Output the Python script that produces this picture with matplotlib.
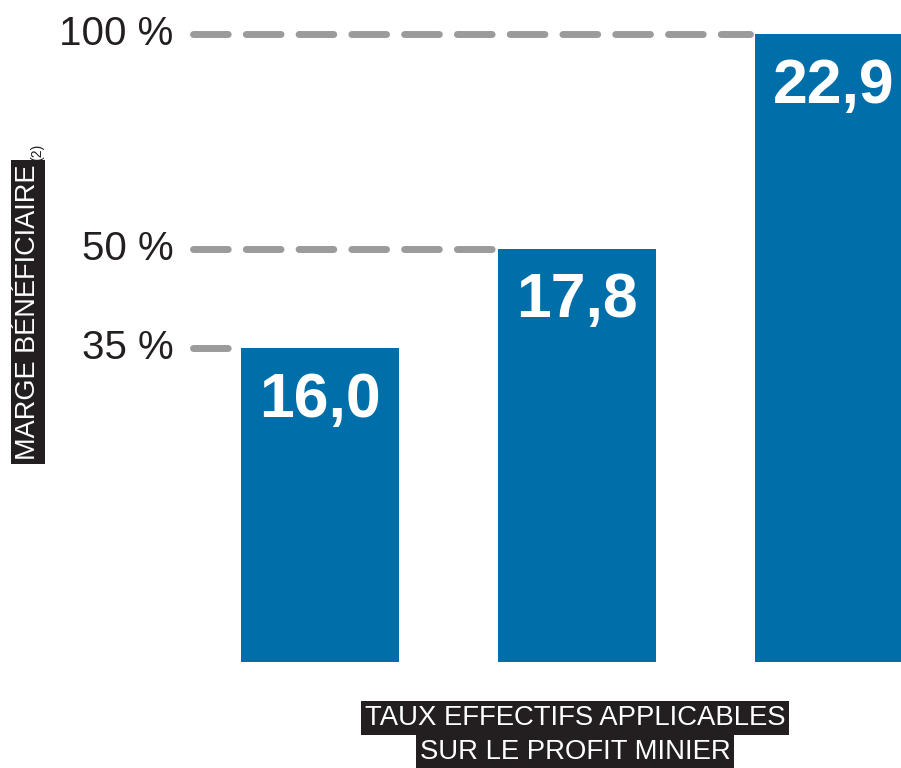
import matplotlib
matplotlib.use("Agg")
import matplotlib.pyplot as plt

# Data
categories = ["Marge 35 %", "Marge 50 %", "Marge 100 %"]
bar_heights = [50.0, 65.8, 100.0]        # relative bar heights
margin_labels = ["35 %", "50 %", "100 %"]
rate_values = [16.0, 17.8, 22.9]
rate_labels = ["16,0", "17,8", "22,9"]

plt.rcParams['font.family'] = ['Liberation Sans', 'DejaVu Sans']

W, H = 901, 768
fig = plt.figure(figsize=(W / 100, H / 100), dpi=100)
ax_l, ax_r, ax_b, ax_t = 190, 901, 662, 34
ax = fig.add_axes([ax_l / W, 1 - ax_b / H, (ax_r - ax_l) / W, (ax_b - ax_t) / H])

blue = "#006ea8"
x = list(range(len(categories)))
width = 158 / 257
ax.bar(x, bar_heights, width=width, color=blue, zorder=2)
ax.set_xlim(-(320 - 190) / 257, (901 - 320) / 257)
ax.set_ylim(0, 100)

for xi, h, lab, ml in zip(x, bar_heights, rate_labels, margin_labels):
    ax.plot([ax.get_xlim()[0] + 0.01, xi - width / 2 - 0.02], [h, h], color="#9b9b9b",
            lw=5, ls=(0, (5, 2.6)), dash_capstyle="round", solid_capstyle="round",
            clip_on=False, zorder=1)
    ax.text(xi, h - 3.6, lab, ha="center", va="top", color="white",
            fontsize=45, fontweight="bold", zorder=3)
    ax.text(ax.get_xlim()[0] - 0.065, h, ml, ha="right", va="center",
            fontsize=29, color="#231f20", clip_on=False)

for s in ax.spines.values():
    s.set_visible(False)
ax.set_xticks([])
ax.set_yticks([])

# Y label
fig.text(28 / W, 1 - 312 / H, "MARGE BÉNÉFICIAIRE", rotation=90, ha="center", va="center",
         color="white", fontsize=19.5,
         bbox=dict(facecolor="#231f20", edgecolor="none", pad=3))
fig.text(37 / W, 1 - 152 / H, "(2)", rotation=90, ha="center", va="center",
         color="#231f20", fontsize=10)

# X label
fig.text(575 / W, 1 - 718 / H, "TAUX EFFECTIFS APPLICABLES", ha="center", va="center",
         color="white", fontsize=19.8,
         bbox=dict(facecolor="#231f20", edgecolor="none", pad=2.5))
fig.text(575 / W, 1 - 752 / H, "SUR LE PROFIT MINIER", ha="center", va="center",
         color="white", fontsize=19.8,
         bbox=dict(facecolor="#231f20", edgecolor="none", pad=2.5))

fig.savefig("out.png", dpi=100)
